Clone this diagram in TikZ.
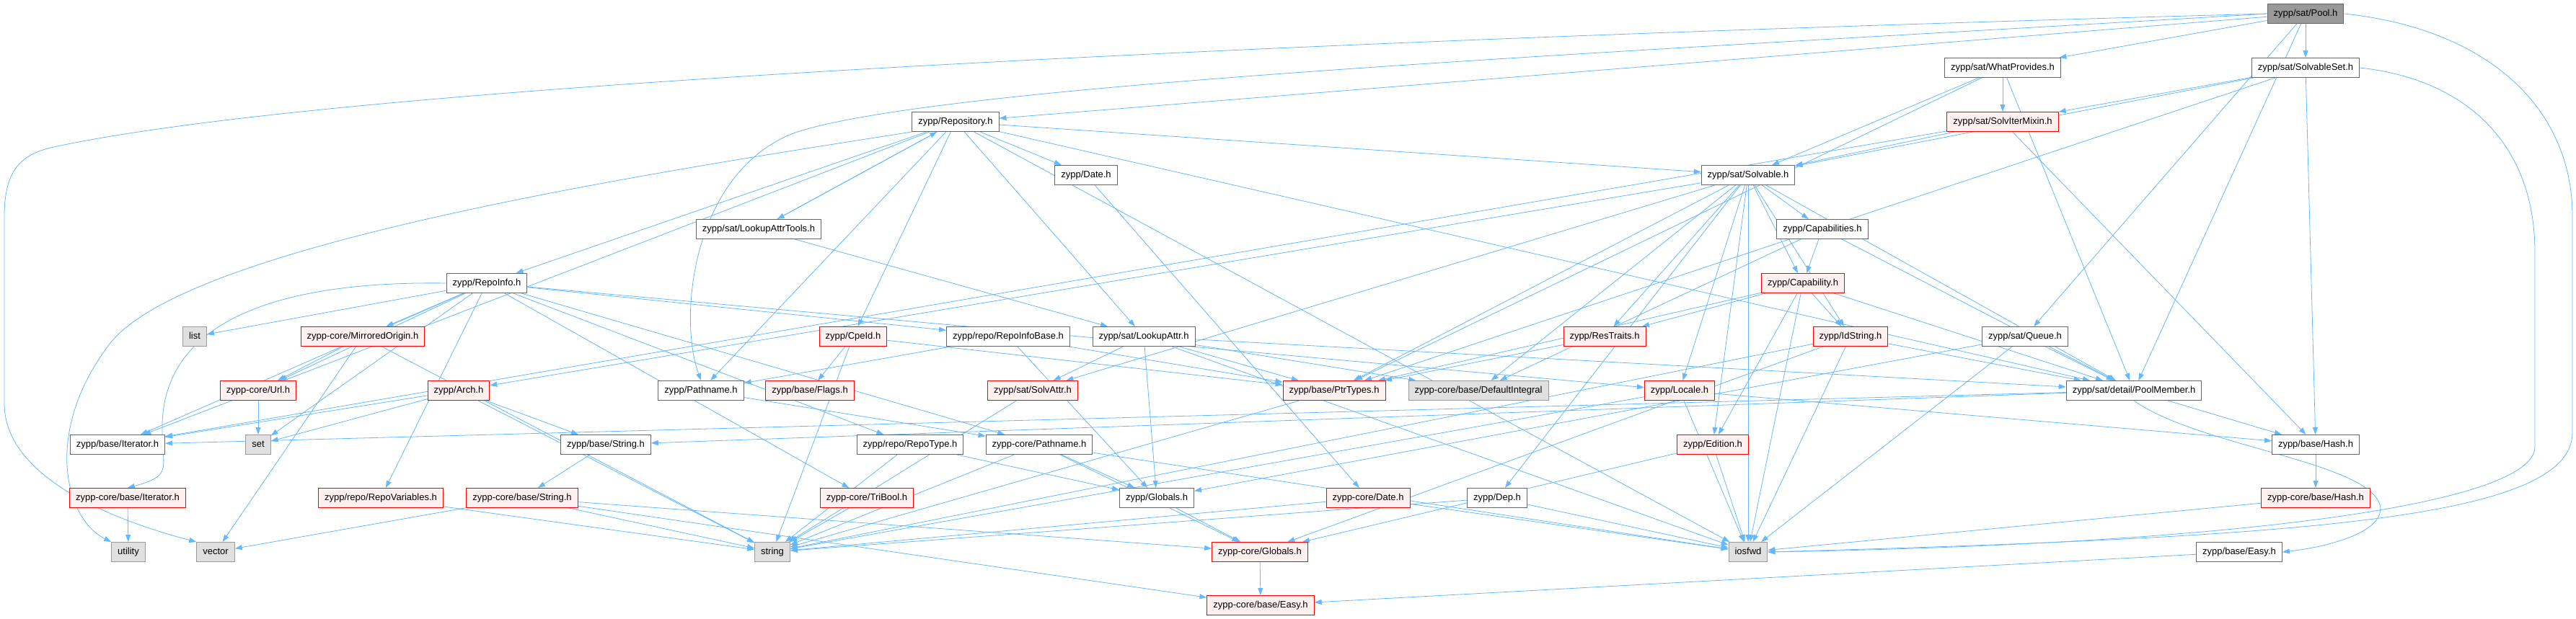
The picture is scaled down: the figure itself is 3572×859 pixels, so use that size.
\documentclass[tikz,border=0pt]{standalone}
\usepackage{fontspec}
\setmainfont{Liberation Sans}
\usetikzlibrary{arrows.meta}
\definecolor{edgec}{HTML}{63B8FF}
\definecolor{wborder}{HTML}{666666}
\definecolor{redfill}{HTML}{FFF0F0}
\definecolor{gborder}{HTML}{999999}
\definecolor{gfill}{HTML}{E0E0E0}
\definecolor{pfill}{HTML}{999999}
\pgfdeclarelayer{background}
\pgfsetlayers{background,main}
\begin{document}
\begin{tikzpicture}[x=1pt,y=-1pt,
  font=\fontsize{13}{15}\selectfont,
  box/.style={rectangle, inner xsep=8.5pt, inner ysep=0pt, minimum height=27pt, line width=1pt, text height=9.5pt, text depth=2.5pt},
  wn/.style={box, draw=wborder, fill=white},
  rn/.style={box, draw=red, fill=redfill},
  gn/.style={box, draw=gborder, fill=gfill},
  pn/.style={box, draw=wborder, fill=pfill},
  edge/.style={draw=edgec, line width=0.8pt, -{Triangle[length=10pt,width=7pt]}}]
\useasboundingbox (0,0) rectangle (3572,859);
\node[pn] (pool) at (3197,19) {zypp/sat/Pool.h};
\node[wn] (whatprov) at (2777,94) {zypp/sat/WhatProvides.h};
\node[wn] (solvset) at (3197,94) {zypp/sat/SolvableSet.h};
\node[wn] (repo) at (1325,169) {zypp/Repository.h};
\node[rn] (solviter) at (2777,169) {zypp/sat/SolvIterMixin.h};
\node[wn] (solvable) at (2424,243) {zypp/sat/Solvable.h};
\node[wn] (date) at (1506,243) {zypp/Date.h};
\node[wn] (lat) at (1052,318) {zypp/sat/LookupAttrTools.h};
\node[wn] (caps) at (2527,318) {zypp/Capabilities.h};
\node[wn] (repoinfo) at (675,393) {zypp/RepoInfo.h};
\node[rn] (cap) at (2500,393) {zypp/Capability.h};
\node[gn] (list) at (270,467) {list};
\node[rn] (mirror) at (503,467) {zypp-core/MirroredOrigin.h};
\node[rn] (cpeid) at (1183,467) {zypp/CpeId.h};
\node[wn] (rib) at (1398,467) {zypp/repo/RepoInfoBase.h};
\node[wn] (la) at (1586,467) {zypp/sat/LookupAttr.h};
\node[rn] (restraits) at (2225,467) {zypp/ResTraits.h};
\node[rn] (idstring) at (2566,467) {zypp/IdString.h};
\node[wn] (queue) at (2808,467) {zypp/sat/Queue.h};
\node[rn] (url) at (358,542) {zypp-core/Url.h};
\node[rn] (arch) at (636,542) {zypp/Arch.h};
\node[wn] (pathname) at (972,542) {zypp/Pathname.h};
\node[rn] (flags) at (1123,542) {zypp/base/Flags.h};
\node[rn] (solvattr) at (1432,542) {zypp/sat/SolvAttr.h};
\node[rn] (ptrtypes) at (1850,542) {zypp/base/PtrTypes.h};
\node[gn] (defint) at (2050,542) {zypp-core/base/DefaultIntegral};
\node[rn] (locale) at (2329,542) {zypp/Locale.h};
\node[wn] (poolmember) at (2959,542) {zypp/sat/detail/PoolMember.h};
\node[wn] (iter) at (163,617) {zypp/base/Iterator.h};
\node[gn] (set) at (358,617) {set};
\node[wn] (strh) at (840,617) {zypp/base/String.h};
\node[wn] (repotype) at (1262,617) {zypp/repo/RepoType.h};
\node[wn] (cpath) at (1441,617) {zypp-core/Pathname.h};
\node[rn] (edition) at (2375,617) {zypp/Edition.h};
\node[wn] (hash) at (3211,617) {zypp/base/Hash.h};
\node[rn] (citer) at (177,691) {zypp-core/base/Iterator.h};
\node[rn] (repovars) at (528,691) {zypp/repo/RepoVariables.h};
\node[rn] (cstring) at (724,691) {zypp-core/base/String.h};
\node[rn] (tribool) at (1202,691) {zypp-core/TriBool.h};
\node[wn] (globals) at (1604,691) {zypp/Globals.h};
\node[rn] (cdate) at (1897,691) {zypp-core/Date.h};
\node[wn] (dep) at (2076,691) {zypp/Dep.h};
\node[rn] (chash) at (3211,691) {zypp-core/base/Hash.h};
\node[gn] (utility) at (178,766) {utility};
\node[gn] (vector) at (299,766) {vector};
\node[gn] (string) at (1071,766) {string};
\node[rn] (cglobals) at (1747,766) {zypp-core/Globals.h};
\node[gn] (iosfwd) at (2424,766) {iosfwd};
\node[wn] (easy) at (3105,766) {zypp/base/Easy.h};
\node[rn] (ceasy) at (1748,840) {zypp-core/base/Easy.h};
\begin{pgfonlayer}{background}
% long routed edges
\draw[edge] (pool.west) .. controls (2000,50) and (500,110) .. (70,205) .. controls (30,215) and (6,235) .. (6,300) -- (6,560) .. controls (6,660) and (150,720) .. (vector.north west);
\draw[edge] (pool.west) .. controls (2300,70) and (1300,115) .. (1100,185) .. controls (960,240) and (940,440) .. (pathname.north);
\draw[edge] (pool.east) .. controls (3450,40) and (3567,150) .. (3567,300) -- (3567,600) .. controls (3567,720) and (3200,745) .. (iosfwd.east);
\draw[edge] (solvset.east) .. controls (3420,110) and (3515,200) .. (3515,350) -- (3515,620) .. controls (3515,700) and (3100,755) .. (iosfwd.east);
\draw[edge] (repo.south west) .. controls (900,240) and (250,340) .. (150,480) .. controls (60,600) and (90,720) .. (utility.north west);
\draw[edge] (poolmember.south) .. controls (3050,620) and (3280,640) .. (3300,700) .. controls (3310,740) and (3220,760) .. (easy.east);
\draw[edge] (repoinfo.west) .. controls (420,390) and (220,430) .. (225,600) .. controls (225,650) and (240,660) .. (citer.north);
% straight edges
\foreach \a/\b in {
 pool/poolmember, pool/repo, pool/whatprov, pool/solvset, pool/queue,
 whatprov/ptrtypes, whatprov/poolmember, whatprov/solvable, whatprov/solviter,
 solvset/ptrtypes, solvset/hash, solvset/solvable, solvset/solviter,
 solviter/iter, solviter/hash, solviter/solvable,
 repo/iosfwd, repo/iter, repo/pathname, repo/poolmember, repo/la, repo/solvable, repo/repoinfo, repo/date, repo/cpeid, repo/lat,
 lat/repo, lat/la,
 date/cdate,
 solvable/iosfwd, solvable/poolmember, solvable/solvattr, solvable/restraits, solvable/idstring, solvable/edition, solvable/arch, solvable/dep, solvable/caps, solvable/cap, solvable/locale, solvable/ptrtypes, solvable/defint,
 caps/cap, caps/poolmember, caps/defint,
 cap/iosfwd, cap/ptrtypes, cap/idstring, cap/edition, cap/restraits, cap/poolmember,
 repoinfo/list, repoinfo/set, repoinfo/mirror, repoinfo/url, repoinfo/iter, repoinfo/repovars, repoinfo/tribool, repoinfo/repotype, repoinfo/cpath, repoinfo/locale, repoinfo/rib,
 mirror/url, mirror/vector, mirror/string,
 cpeid/flags, cpeid/ptrtypes, cpeid/string,
 rib/pathname, rib/ptrtypes, rib/globals,
 la/iosfwd, la/ptrtypes, la/solvattr, la/poolmember, la/defint, la/globals,
 restraits/ptrtypes,
 idstring/iosfwd, idstring/poolmember, idstring/string, idstring/cglobals,
 queue/iosfwd, queue/poolmember, queue/globals,
 url/set,
 arch/iter, arch/set, arch/strh, arch/string,
 pathname/cpath,
 solvattr/string,
 ptrtypes/string,
 locale/iosfwd, locale/string, locale/hash,
 poolmember/iter, poolmember/strh, poolmember/hash,
 strh/cstring,
 cstring/vector, cstring/string, cstring/ceasy, cstring/cglobals,
 repotype/string, repotype/globals,
 cpath/string, cpath/globals, cpath/cglobals, cpath/iosfwd,
 edition/iosfwd, edition/cglobals,
 hash/chash, chash/iosfwd, globals/cglobals,
 tribool/string,
 cdate/string, cdate/iosfwd,
 dep/iosfwd, dep/string,
 cglobals/ceasy, easy/ceasy, repovars/string, citer/utility}
 \draw[edge] (\a) -- (\b);
\end{pgfonlayer}
\end{tikzpicture}
\end{document}
